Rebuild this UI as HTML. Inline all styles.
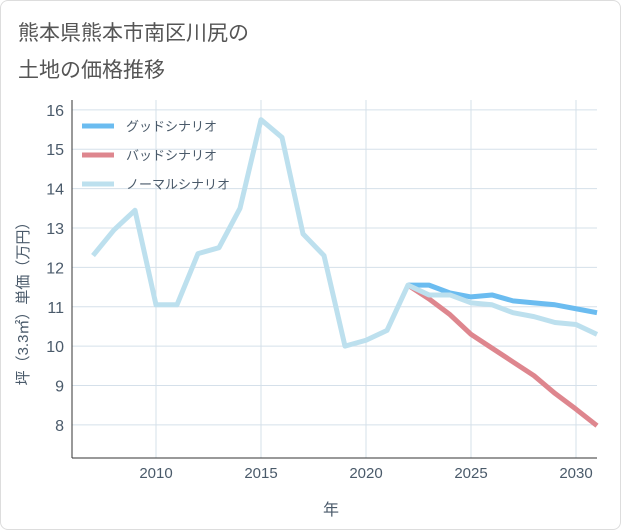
<!DOCTYPE html>
<html><head><meta charset="utf-8"><style>
body{margin:0;background:#fff;font-family:"Liberation Sans","Noto Sans CJK JP",sans-serif}
#wrap{position:relative;width:619px;height:528px;border:1px solid #ddd;border-radius:8px;overflow:hidden}
</style></head><body>
<div id="wrap">
<svg id="chart" width="621" height="530" style="position:absolute;left:-1px;top:-1px">
<text x="18" y="40" font-size="21" fill="#555">熊本県熊本市南区川尻の</text>
<text x="18" y="77" font-size="21" fill="#555">土地の価格推移</text>
<g id="grid"></g><g id="series"></g><g id="legend"></g>
<text x="331" y="515" font-size="16" fill="#4a5a6a" text-anchor="middle">年</text>
<text transform="translate(28,300) rotate(-90)" font-size="15" fill="#4a5a6a" text-anchor="middle">坪（3.3㎡）単価（万円）</text>
</svg>
</div>
<script>
const years=[2007,2008,2009,2010,2011,2012,2013,2014,2015,2016,2017,2018,2019,2020,2021,2022,2023,2024,2025,2026,2027,2028,2029,2030,2031];
const normal=[12.3,12.95,13.45,11.05,11.05,12.35,12.5,13.5,15.75,15.3,12.85,12.3,10.0,10.15,10.4,11.55,11.3,11.3,11.1,11.05,10.85,10.75,10.6,10.55,10.3];
const fYears=[2022,2023,2024,2025,2026,2027,2028,2029,2030,2031];
const good=[11.55,11.55,11.35,11.25,11.3,11.15,11.1,11.05,10.95,10.85];
const bad=[11.55,11.2,10.8,10.3,9.95,9.6,9.25,8.8,8.4,7.98];
const xTicks=[2010,2015,2020,2025,2030];
const yTicks=[8,9,10,11,12,13,14,15,16];
const L=72,R=597,T=100,B=458,x0=2006,x1=2031,y0=7.16,y1=16.25;
const X=v=>L+(v-x0)/(x1-x0)*(R-L), Y=v=>B-(v-y0)/(y1-y0)*(B-T);
const NS="http://www.w3.org/2000/svg";
function mk(p,t,a){const e=document.createElementNS(NS,t);for(const k in a)e.setAttribute(k,a[k]);p.appendChild(e);return e;}
const g=document.getElementById('grid');
xTicks.forEach(v=>{const l=mk(g,'line',{x1:X(v),x2:X(v),y1:T,y2:B,stroke:'#d5e0ea'});


const t=mk(g,'text',{x:X(v),y:B+20,'font-size':15,fill:'#4a5a6a','text-anchor':'middle'});t.textContent=v;

});
yTicks.forEach(v=>{const l=mk(g,'line',{x1:L,x2:R,y1:Y(v),y2:Y(v),stroke:'#d5e0ea'});


const t=mk(g,'text',{x:L-8,y:Y(v)+6,'font-size':16,fill:'#4a5a6a','text-anchor':'end'});t.textContent=v;

});
const ax=mk(g,'line',{x1:L,x2:L,y1:T,y2:B,stroke:'#333'});


const ax2=mk(g,'line',{x1:L,x2:R,y1:B,y2:B,stroke:'#333'});


const s=document.getElementById('series');
function line(xs,ys,c,n){const p=mk(s,'polyline',{points:xs.map((v,i)=>X(v)+','+Y(ys[i])).join(' '),fill:'none',stroke:c,'stroke-width':5,'stroke-linejoin':'round'});

}
line(fYears,good,'#6bbcf0','good-scenario-line');
line(fYears,bad,'#de868e','bad-scenario-line');
line(years,normal,'#bde0ee','normal-scenario-line');
const lg=document.getElementById('legend');
[['グッドシナリオ','#6bbcf0'],['バッドシナリオ','#de868e'],['ノーマルシナリオ','#bde0ee']].forEach((d,i)=>{
const y=126+i*29;
const l=mk(lg,'line',{x1:82,x2:114,y1:y,y2:y,stroke:d[1],'stroke-width':5});


const t=mk(lg,'text',{x:126,y:y+5,'font-size':13,fill:'#4a5a6a'});t.textContent=d[0];

});
</script>
</body></html>
